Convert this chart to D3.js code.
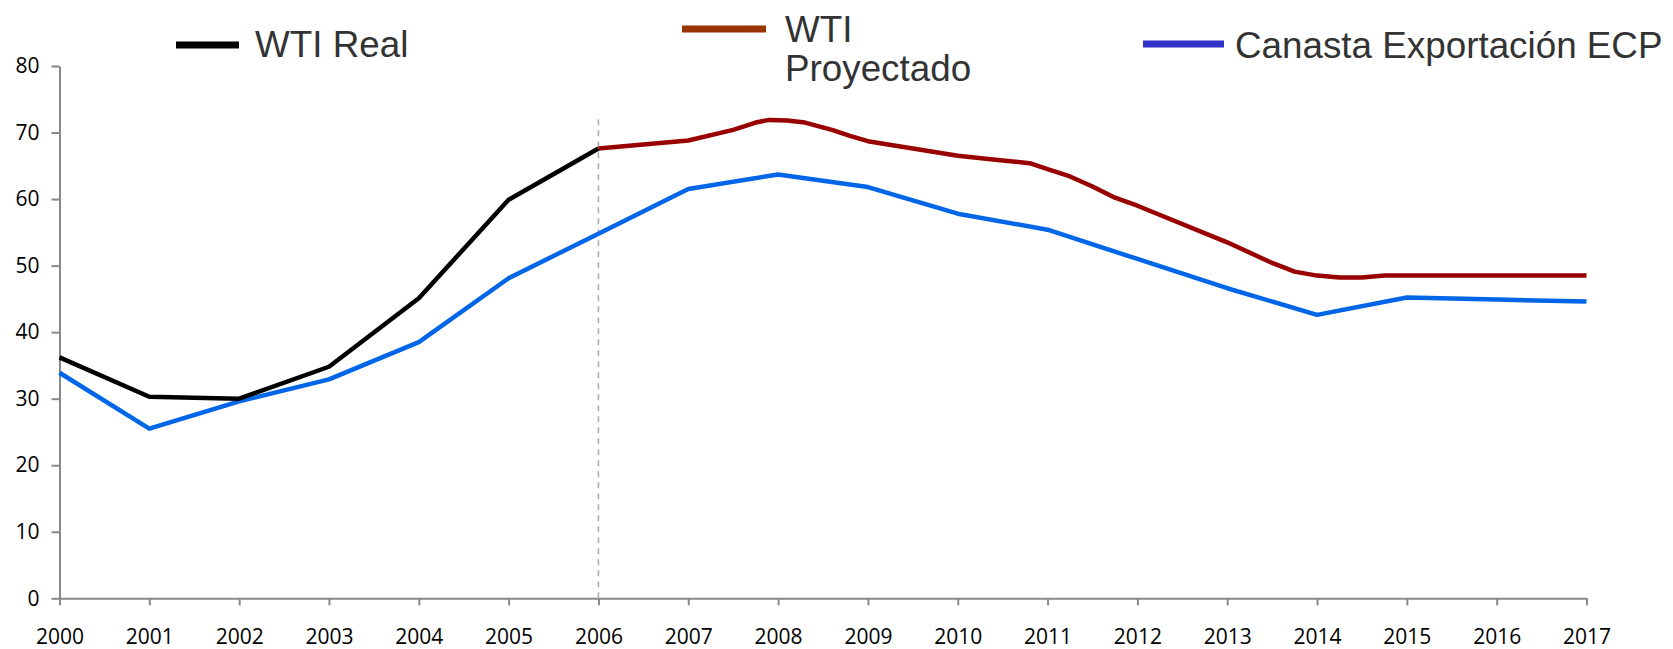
<!DOCTYPE html>
<html>
<head>
<meta charset="utf-8">
<script src="https://cdn.jsdelivr.net/npm/d3@7"></script>
<style>
  html, body { margin: 0; padding: 0; background: #fff; }
  svg { display: block; }
</style>
</head>
<body>
<svg id="chart" width="1673" height="649"></svg>
<script>
// ---- data ----
const years = [2000, 2001, 2002, 2003, 2004, 2005, 2006, 2007, 2008, 2009, 2010, 2011, 2012, 2013, 2014, 2015, 2016, 2017];
const yTicks = [0, 10, 20, 30, 40, 50, 60, 70, 80];

const wtiRealYears = [2000, 2001, 2002, 2003, 2004, 2005, 2006];
const wtiRealValues = [36.2, 30.3, 30.0, 34.8, 45.1, 59.9, 67.6];

const wtiProyDates = [2006, 2007, 2007.5, 2007.75, 2007.9, 2008.1, 2008.3, 2008.6, 2008.8, 2009,
                      2010, 2010.5, 2010.8, 2011, 2011.25, 2011.5, 2011.75, 2012, 2013, 2013.5,
                      2013.75, 2014, 2014.25, 2014.5, 2014.75, 2015, 2016, 2017];
const wtiProyValues = [67.6, 68.8, 70.4, 71.5, 71.9, 71.8, 71.5, 70.4, 69.5, 68.7,
                       66.5, 65.8, 65.4, 64.5, 63.4, 61.9, 60.2, 59.0, 53.5, 50.4,
                       49.1, 48.5, 48.2, 48.2, 48.5, 48.5, 48.5, 48.5];

const canastaValues = [33.9, 25.5, 29.6, 32.9, 38.5, 48.1, 54.8, 61.5, 63.7, 61.8, 57.8, 55.4, 51.0, 46.6, 42.6, 45.2, 44.9, 44.6];

const legendLabels = ["WTI Real", ["WTI", "Proyectado"], "Canasta Exportación ECP"];
const splitYear = 2006;

// ---- layout ----
const svg = d3.select("#chart");
const x = d3.scaleLinear().domain([2000, 2017]).range([59.5, 1586.5]);
const y = d3.scaleLinear().domain([0, 80]).range([598.3, 66]);

const tickFont = "'Open Sans', 'DejaVu Sans', sans-serif";
const legendFont = "'Liberation Sans', Arial, sans-serif";

// y axis
const gy = svg.append("g")
  .attr("transform", `translate(${x(2000)},0)`)
  .call(d3.axisLeft(y).tickValues(yTicks).tickSize(8).tickSizeOuter(0).tickPadding(12).tickFormat(d3.format("d")));
// x axis
const gx = svg.append("g")
  .attr("transform", `translate(0,${y(0)})`)
  .call(d3.axisBottom(x).tickValues(years).tickSize(7).tickSizeOuter(0).tickPadding(24).tickFormat(d3.format("d")));

[gx, gy].forEach(g => {
  g.select(".domain").attr("stroke", "#888").attr("stroke-width", 2);
  g.selectAll(".tick line").attr("stroke", "#888").attr("stroke-width", 2);
  g.selectAll(".tick text").attr("fill", "#000").style("font-family", tickFont).style("font-size", "21px");
});

// dashed separator
svg.append("line")
  .attr("x1", x(splitYear)).attr("x2", x(splitYear))
  .attr("y1", y(72)).attr("y2", y(0))
  .attr("stroke", "#aaa").attr("stroke-width", 1.5).attr("stroke-dasharray", "6,5");

const line = d3.line().x(d => x(d[0])).y(d => y(d[1]));

svg.append("path")
  .datum(years.map((yr, i) => [yr, canastaValues[i]]))
  .attr("d", line).attr("fill", "none").attr("stroke", "#0066e8").attr("stroke-width", 4.5)
  .attr("stroke-linejoin", "round");

svg.append("path")
  .datum(wtiProyDates.map((d, i) => [d, wtiProyValues[i]]))
  .attr("d", line).attr("fill", "none").attr("stroke", "#990000").attr("stroke-width", 4.5)
  .attr("stroke-linejoin", "round");

svg.append("path")
  .datum(wtiRealYears.map((yr, i) => [yr, wtiRealValues[i]]))
  .attr("d", line).attr("fill", "none").attr("stroke", "#000").attr("stroke-width", 4.5)
  .attr("stroke-linejoin", "round");

// ---- legend ----
const legend = [
  { color: "#000000", x1: 176, x2: 239, ly: 45, tx: 255, lines: [legendLabels[0]], ty: 57 },
  { color: "#993300", x1: 682, x2: 766, ly: 29, tx: 785, lines: legendLabels[1], ty: 42 },
  { color: "#3333cc", x1: 1143, x2: 1224, ly: 44, tx: 1235, lines: [legendLabels[2]], ty: 58 }
];
legend.forEach(l => {
  svg.append("line").attr("x1", l.x1).attr("x2", l.x2).attr("y1", l.ly).attr("y2", l.ly)
    .attr("stroke", l.color).attr("stroke-width", 7);
  const t = svg.append("text").attr("x", l.tx).attr("y", l.ty)
    .attr("fill", "#333").style("font-family", legendFont).style("font-size", "36.8px");
  l.lines.forEach((s, i) => {
    t.append("tspan").attr("x", l.tx).attr("dy", i === 0 ? 0 : 38.5).text(s);
  });
});
</script>
</body>
</html>
